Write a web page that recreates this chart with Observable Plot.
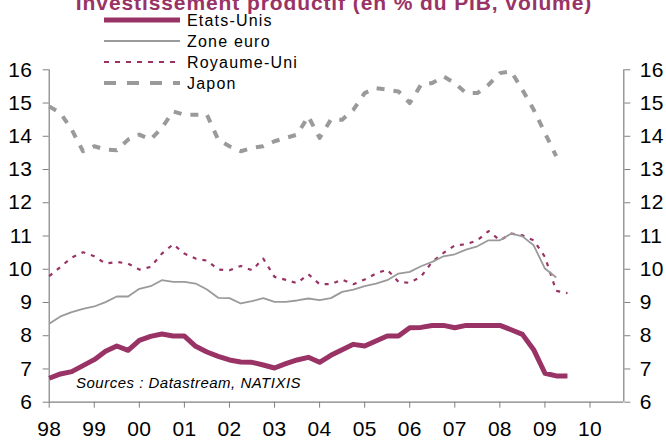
<!DOCTYPE html>
<html><head><meta charset="utf-8">
<script src="https://cdn.jsdelivr.net/npm/d3@7"></script>
<script src="https://cdn.jsdelivr.net/npm/@observablehq/plot@0.6"></script>
<style>
body{margin:0;background:#fff;}
#chart{position:relative;width:666px;height:441px;overflow:hidden;}
</style>
</head><body><div id="chart"></div>
<script>
// ---- data (quarterly, starting 1998 Q1) ----
const startYear = 1998;
const titleText = "Investissement productif (en % du PIB, volume)";
const sourceText = "Sources : Datastream, NATIXIS";
const seriesNames = ["Etats-Unis", "Zone euro", "Royaume-Uni", "Japon"];
const etatsUnis = [6.72, 6.85, 6.92, 7.10, 7.28, 7.53, 7.69, 7.56, 7.86, 7.98, 8.05, 7.99, 7.99, 7.68, 7.51, 7.38,
  7.27, 7.21, 7.20, 7.12, 7.03, 7.16, 7.27, 7.35, 7.20, 7.41, 7.58, 7.74, 7.69, 7.84, 7.99, 7.99,
  8.24, 8.25, 8.31, 8.31, 8.24, 8.31, 8.31, 8.31, 8.31, 8.18, 8.04, 7.58, 6.87, 6.79, 6.79];
const zoneEuro = [8.36, 8.58, 8.71, 8.81, 8.88, 9.01, 9.18, 9.18, 9.41, 9.49, 9.67, 9.62, 9.62, 9.57, 9.39, 9.14,
  9.13, 8.97, 9.04, 9.13, 9.02, 9.02, 9.06, 9.12, 9.07, 9.13, 9.32, 9.39, 9.49, 9.57, 9.67, 9.87,
  9.92, 10.09, 10.22, 10.39, 10.45, 10.59, 10.69, 10.87, 10.87, 11.07, 10.99, 10.72, 10.02, 9.75];
const royaumeUni = [9.79, 10.07, 10.35, 10.51, 10.39, 10.17, 10.22, 10.17, 9.99, 10.07, 10.47, 10.75, 10.47, 10.32, 10.26, 9.99,
  9.97, 10.10, 9.97, 10.32, 9.77, 9.68, 9.58, 9.85, 9.55, 9.55, 9.69, 9.55, 9.69, 9.87, 9.99, 9.62,
  9.59, 9.78, 10.22, 10.49, 10.72, 10.75, 10.87, 11.15, 10.87, 11.07, 11.02, 10.87, 10.37, 9.35, 9.28];
const japon = [14.9, 14.7, 14.2, 13.55, 13.7, 13.6, 13.58, 13.9, 14.05, 13.9, 14.25, 14.75, 14.65, 14.65, 14.65, 13.9,
  13.7, 13.55, 13.65, 13.7, 13.85, 13.95, 14.05, 14.6, 13.95, 14.5, 14.5, 14.8, 15.3, 15.45, 15.4, 15.35,
  15.0, 15.55, 15.6, 15.8, 15.6, 15.3, 15.3, 15.55, 15.9, 15.95, 15.4, 14.8, 14.1, 13.4];
const yTicks = [6, 7, 8, 9, 10, 11, 12, 13, 14, 15, 16];
const xTickYears = [1998, 1999, 2000, 2001, 2002, 2003, 2004, 2005, 2006, 2007, 2008, 2009, 2010];
const xTickLabels = ["98", "99", "00", "01", "02", "03", "04", "05", "06", "07", "08", "09", "10"];
const xDomain = [1998, 2010.75];
const yDomain = [6, 16];

// ---- styles ----
const plum = "#993366";
const grey = "#9a9a9a";
const axisGrey = "#808080";
const styles = {
  "Etats-Unis": {stroke: plum, strokeWidth: 5, dash: null, legendDash: null},
  "Zone euro": {stroke: grey, strokeWidth: 1.8, dash: null, legendDash: null},
  "Royaume-Uni": {stroke: plum, strokeWidth: 2.2, dash: "4,6", legendDash: "5,6"},
  "Japon": {stroke: grey, strokeWidth: 4, dash: "8,9", legendDash: "12,11"}
};
const valuesByName = {"Etats-Unis": etatsUnis, "Zone euro": zoneEuro, "Royaume-Uni": royaumeUni, "Japon": japon};
const rowsFor = name => valuesByName[name].map((v, i) => ({name, t: startYear + i / 4, v}));

const drawOrder = ["Japon", "Royaume-Uni", "Zone euro", "Etats-Unis"];

const font = "'Liberation Sans', Arial, sans-serif";

const chart = Plot.plot({
  width: 666, height: 441,
  marginLeft: 48.7, marginRight: 42.7, marginTop: 69.3, marginBottom: 39.3,
  style: {fontFamily: font, background: "white", color: "#000", overflow: "visible"},
  x: {domain: xDomain},
  y: {domain: yDomain},
  marks: [
    Plot.axisY({ticks: yTicks, anchor: "left", tickSize: 6, tickPadding: 11, fontSize: 21, stroke: axisGrey, fill: "#000", label: null}),
    Plot.axisY({ticks: yTicks, anchor: "right", tickSize: 6, tickPadding: 10, fontSize: 21, stroke: axisGrey, fill: "#000", label: null}),
    Plot.axisX({ticks: xTickYears, anchor: "bottom", tickSize: 6, tickPadding: 13, fontSize: 21, stroke: axisGrey, fill: "#000", label: null,
      tickFormat: d => xTickLabels[xTickYears.indexOf(d)]}),
    Plot.ruleY([yDomain[0]], {stroke: axisGrey, strokeWidth: 1.2}),
    Plot.ruleX(xDomain, {y1: yDomain[0], y2: yDomain[1], stroke: axisGrey, strokeWidth: 1.2}),
    ...drawOrder.map(name => Plot.line(rowsFor(name), {
      x: "t", y: "v", stroke: styles[name].stroke, strokeWidth: styles[name].strokeWidth,
      strokeDasharray: styles[name].dash, strokeLinejoin: "round", strokeLinecap: "butt"
    }))
  ]
});

document.getElementById("chart").appendChild(chart);
const svg = d3.select(chart);
svg.selectAll("g[aria-label='y-axis tick label'] text, g[aria-label='x-axis tick label'] text").style("letter-spacing", "0.3px");

// title (partly cut at the top, as in the original)
svg.append("text").attr("x", 334).attr("y", 9.5).attr("text-anchor", "middle")
  .style("font", `bold 21px ${font}`).style("letter-spacing", "0.9px").attr("fill", plum).text(titleText);

// legend
const legendRows = [20, 41, 62, 83];
const leg = svg.append("g").attr("text-anchor", "start");
seriesNames.forEach((name, k) => {
  const s = styles[name];
  leg.append("line").attr("x1", 104).attr("x2", 180).attr("y1", legendRows[k]).attr("y2", legendRows[k])
    .attr("stroke", s.stroke).attr("stroke-width", s.strokeWidth)
    .attr("stroke-dasharray", s.legendDash);
  leg.append("text").attr("x", 187).attr("y", legendRows[k] + 5.8).attr("text-anchor", "start")
    .style("font", `16px ${font}`).style("letter-spacing", "1.2px").attr("fill", "#000").text(name);
});

// source note
svg.append("text").attr("x", 76).attr("y", 388).attr("text-anchor", "start")
  .style("font", `italic 15px ${font}`).style("letter-spacing", "0.5px").attr("fill", "#000").text(sourceText);
</script>
</body></html>
